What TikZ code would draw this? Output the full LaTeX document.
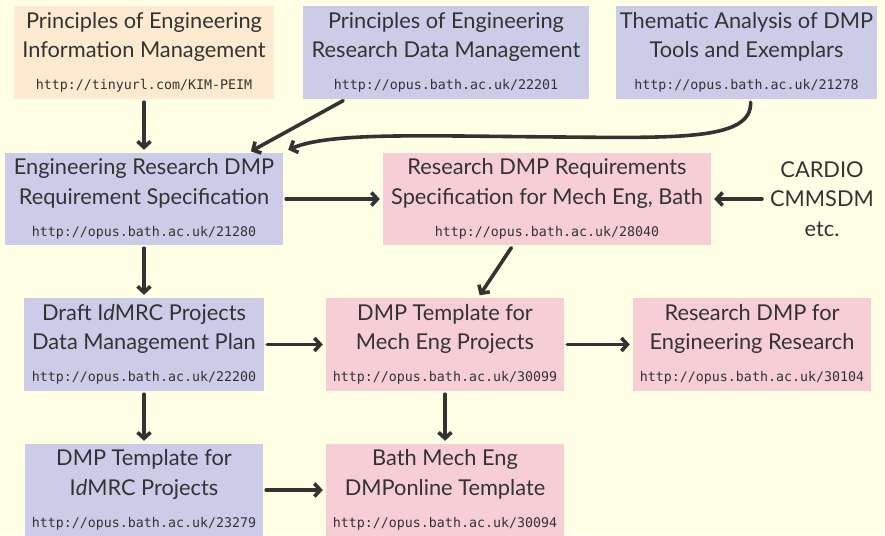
\documentclass[tikz,border=0pt]{standalone}
\usepackage{fontspec}
\setmainfont{Lato}
\setmonofont{DejaVu Sans Mono}
\usetikzlibrary{arrows.meta}
\definecolor{paper}{RGB}{255,255,230}
\definecolor{peach}{RGB}{253,234,208}
\definecolor{lilac}{RGB}{204,204,232}
\definecolor{rose}{RGB}{247,206,214}
\definecolor{ink}{RGB}{51,51,51}
\newcommand{\ttl}{\fontsize{21.8}{29.5}\selectfont}
\newcommand{\lnk}[1]{\\[2.5pt]{\ttfamily\fontsize{13.3}{16}\selectfont #1}}
\tikzset{
  doc/.style={inner sep=0pt, align=center, text=ink, font=\ttl},
  arr/.style={draw=ink, line width=3.6pt, line cap=round, -{Straight Barb[length=6pt,width=13pt]}, shorten <=3pt, shorten >=3pt}
}
\begin{document}
\begin{tikzpicture}[x=1pt,y=-1pt]
\useasboundingbox (0,0) rectangle (885,535);
\fill[paper] (0,0) rectangle (885,535);
\node[doc, fill=peach, minimum width=260pt, minimum height=93pt] (doc0) at (144,52.5) {Principles of Engineering\\Information Management\lnk{http://tinyurl.com/KIM-PEIM}};
\node[doc, fill=lilac, minimum width=286pt, minimum height=93pt] (doc1) at (446,52.5) {Principles of Engineering\\Research Data Management\lnk{http://opus.bath.ac.uk/22201}};
\node[doc, fill=lilac, minimum width=261pt, minimum height=93pt] (doc2) at (746.5,52.5) {Thematic Analysis of DMP\\Tools and Exemplars\lnk{http://opus.bath.ac.uk/21278}};
\node[doc, fill=lilac, minimum width=278pt, minimum height=92pt] (doc3) at (144,199) {Engineering Research DMP\\Requirement Specification\lnk{http://opus.bath.ac.uk/21280}};
\node[doc, fill=rose, minimum width=328pt, minimum height=92pt] (doc4) at (547,199) {Research DMP Requirements\\Specification for Mech Eng, Bath\lnk{http://opus.bath.ac.uk/28040}};
\node[doc, inner sep=5pt] (src) at (822,199) {CARDIO\\CMMSDM\\etc.};
\node[doc, fill=lilac, minimum width=240pt, minimum height=93pt] (doc5) at (144,344.5) {Draft I\textit{d}MRC Projects\\Data Management Plan\lnk{http://opus.bath.ac.uk/22200}};
\node[doc, fill=rose, minimum width=238pt, minimum height=93pt] (doc6) at (445,344.5) {DMP Template for\\Mech Eng Projects\lnk{http://opus.bath.ac.uk/30099}};
\node[doc, fill=rose, minimum width=238pt, minimum height=93pt] (doc7) at (752,344.5) {Research DMP for\\Engineering Research\lnk{http://opus.bath.ac.uk/30104}};
\node[doc, fill=lilac, minimum width=238pt, minimum height=92pt] (doc8) at (144,490) {DMP Template for\\I\textit{d}MRC Projects\lnk{http://opus.bath.ac.uk/23279}};
\node[doc, fill=rose, minimum width=238pt, minimum height=92pt] (doc9) at (445,490) {Bath Mech Eng\\DMPonline Template\lnk{http://opus.bath.ac.uk/30094}};
\draw[arr] (doc0) -- (doc3);
\draw[arr] ([xshift=43pt]doc1.south west) -- ([xshift=-35pt]doc3.north east);
\draw[arr, shorten >=0pt] ([xshift=4pt]doc2.south) .. controls (752,140) and (680,138) .. (560,137) .. controls (420,136) and (330,132) .. ([xshift=5pt,yshift=3pt]doc3.north east);
\draw[arr] (doc3) -- (doc4);
\draw[arr] (src) -- (doc4);
\draw[arr] (doc3) -- (doc5);
\draw[arr] ([xshift=-34pt]doc4.south) -- ([xshift=33pt]doc6.north);
\draw[arr] (doc5) -- (doc6);
\draw[arr] (doc6) -- (doc7);
\draw[arr] (doc5) -- (doc8);
\draw[arr] (doc6) -- (doc9);
\draw[arr] (doc8) -- (doc9);
\end{tikzpicture}
\end{document}
